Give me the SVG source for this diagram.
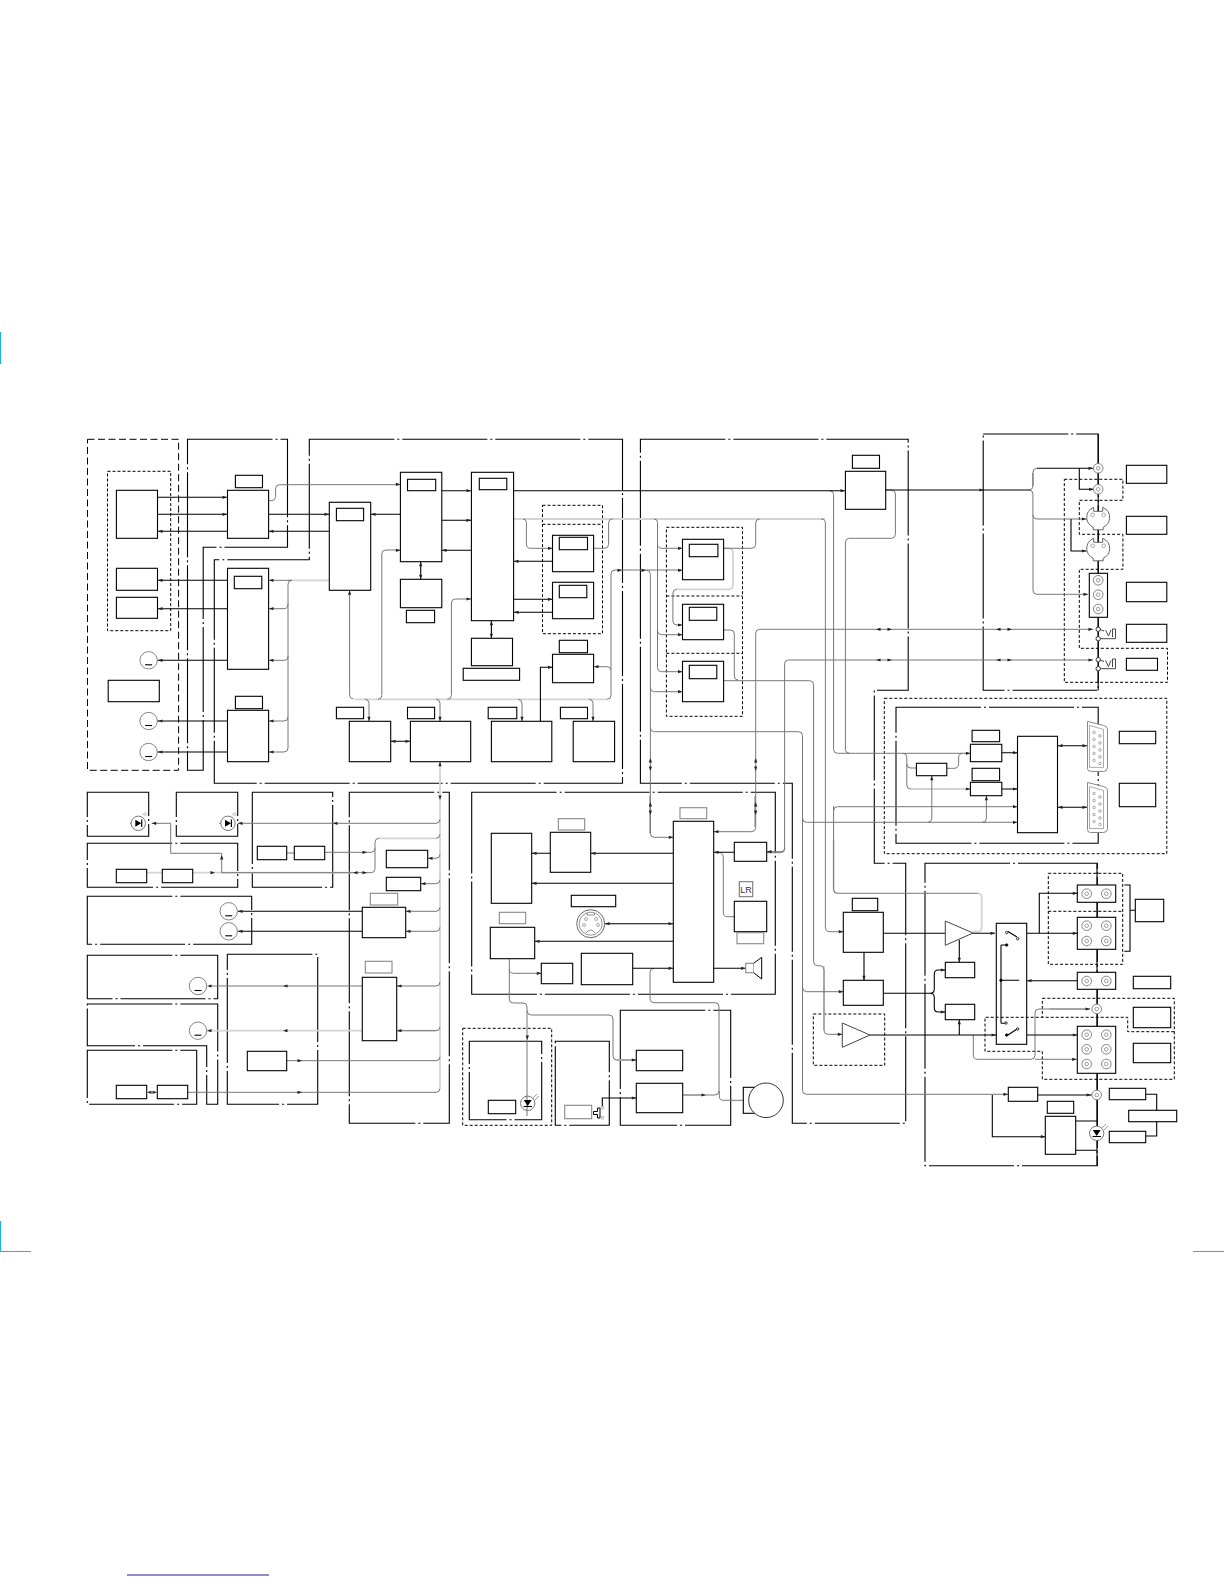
<svg xmlns="http://www.w3.org/2000/svg" width="1224" height="1584" viewBox="0 0 1224 1584">
<style>
rect{fill:#fff;stroke:#000;stroke-width:1.1}
rect.lb{stroke:#888}
.fr path,.da path,.la path,.k path,.g path,.l path{fill:none}
.fr path{stroke:#000;stroke-width:1.1;stroke-dasharray:85 3 2 3}
.da path{stroke:#000;stroke-width:1;stroke-dasharray:3 2}
.la path{stroke:#000;stroke-width:1;stroke-dasharray:7 3.5}
.k path{stroke:#000;stroke-width:1.1}
.g path{stroke:#777;stroke-width:1}
.l path{stroke:#d4d4d4;stroke-width:1.8}
.tri{fill:#fff;stroke:#444;stroke-width:1}
.hole{fill:#fff;stroke:#888;stroke-width:.7}
.blu{stroke:#2ab0d8;stroke-width:1.2}
</style>
<defs>
<path id="ar" d="M0 0L-4.5-1.6V1.6Z" fill="#222"/>
<path id="al" d="M0 0L4.5-1.6V1.6Z" fill="#222"/>
<path id="au" d="M0 0L-1.6 4.5H1.6Z" fill="#222"/>
<path id="ad" d="M0 0L-1.6-4.5H1.6Z" fill="#222"/>
<g id="rca"><circle r="4.8" fill="#fff" stroke="#777" stroke-width=".9"/><circle r="1.8" fill="#fff" stroke="#777" stroke-width=".7"/></g>
<g id="mot"><circle r="8.7" fill="#fff" stroke="#777" stroke-width=".9"/><path d="M-3.5 4.5H3.5" stroke="#000" stroke-width="1.1" fill="none"/></g>
<g id="led"><circle r="7.2" fill="#fff" stroke="#666" stroke-width=".9"/><path d="M-3-3.5L3 0L-3 3.5Z" fill="#000"/><path d="M3.4-3.8V3.8" stroke="#000" stroke-width="1.2" fill="none"/><path d="M4 -8L7-11M6-7L9-10" stroke="#777" stroke-width=".7" fill="none"/></g>
<g id="din"><path d="M-4.5-11A11.5 11.5 0 0 0-11.5 0A11.5 11.5 0 0 0-5 9V11.5H5V9A11.5 11.5 0 0 0 11.5 0A11.5 11.5 0 0 0 4.5-11V-7H-4.5Z" fill="#fff" stroke="#555" stroke-width=".9"/><circle cx="-5.5" cy="-3.5" r="1.8" class="hole"/><circle cx="5.5" cy="-3.5" r="1.8" class="hole"/></g>
<g id="dsub"><path d="M-10-25L6-21Q10-20 10-17V21Q10 25 6 25H-7Q-10 25-10 22Z" fill="#fff" stroke="#888" stroke-width="1"/><path d="M-8-21L6-17V21H-8Z" fill="#fff" stroke="#888" stroke-width=".7"/><circle cx="-3.5" cy="-14" r="1.3" class="hole"/><circle cx="-3.5" cy="-7" r="1.3" class="hole"/><circle cx="-3.5" cy="0" r="1.3" class="hole"/><circle cx="-3.5" cy="7" r="1.3" class="hole"/><circle cx="-3.5" cy="14" r="1.3" class="hole"/><circle cx="2.5" cy="-10.5" r="1.3" class="hole"/><circle cx="2.5" cy="-3.5" r="1.3" class="hole"/><circle cx="2.5" cy="3.5" r="1.3" class="hole"/><circle cx="2.5" cy="10.5" r="1.3" class="hole"/><circle cx="2.5" cy="17" r="1.3" class="hole"/></g>
</defs>

<g id="page-marks">
<path class="blu" d="M.6 332V364M.6 1221V1251.5H31M1193 1251.5H1224" fill="none"/>
<path d="M127 1575H269" stroke="#1a1a90" stroke-width="1.2" fill="none"/>
</g>

<g id="frames">
<g class="la"><path d="M87.5 439.3H178.6V770.3H87.5Z"/></g>
<g class="da">
<path d="M107.5 471.3H170.7V630.7H107.5Z"/>
<path d="M542.5 505.3H602.5V633.7H542.5ZM542.5 524.3H602.5"/>
<path d="M666.4 527.3H742.5V716.3H666.4ZM666.4 596H742.5M666.4 653.3H742.5"/>
<path d="M1064.3 479.3H1122.9V500.3H1079.3V534.3H1122.9V569.3H1079.3V648.3H1167.5V682.3H1064.3Z"/>
<path d="M884.3 698.3H1166.8V853.7H884.3Z"/>
<path d="M462.7 1028.3H551.7V1125.3H462.7Z"/>
<path d="M813.3 1014H884.7V1065.3H813.3Z"/>
<path d="M1048.3 873.3H1122.7V964.3H1048.3ZM1048.3 911.3H1122.7"/>
<path d="M1042.3 998.3H1174.3V1079.3H1042.3V1051.3H985V1017.3H1042.3ZM1174.3 1031.7H1127.7V1017.3H1042.3"/>
</g>
<g class="fr">
<path d="M187.5 439.3H287.5V547.3H203.2V770.3H187.5Z"/>
<path d="M309.3 439.3H622.5V783.3H214.3V559.7H309.3Z"/>
<path d="M640.4 439.3H908.2V690.3H874.3V863.3H905.7V1123.3H792.3V783.3H640.4Z"/>
<path d="M983.2 434H1098.2V690.3H983.2Z"/>
<path d="M896 707.3H1098.2V843.3H896Z"/>
<path d="M925 863.3H1097.3V1165.7H925Z"/>
<path d="M87.3 792.3H148.7V836.3H87.3Z"/>
<path d="M176.3 792.3H237.7V836.3H176.3Z"/>
<path d="M87.3 843.3H237.7V887.3H87.3Z"/>
<path d="M252.3 792.3H332.7V887.3H252.3Z"/>
<path d="M349.3 792.3H449.3V1123.3H349.3Z"/>
<path d="M87.3 896.3H251.7V944.3H87.3Z"/>
<path d="M87.3 955.3H217.7V998.7H87.3Z"/>
<path d="M87.3 1004H217.7V1104.3H206.7V1045.7H87.3Z"/>
<path d="M87.3 1050.3H196.7V1104.3H87.3Z"/>
<path d="M227.3 954.3H317.7V1104.3H227.3Z"/>
<path d="M471.7 792.3H775.3V994.3H471.7Z"/>
<path d="M469.3 1041.3H541.7V1119.7H469.3Z"/>
<path d="M555.3 1041.3H609.3V1125.3H555.3Z"/>
<path d="M620.3 1010.3H730.7V1125.3H620.3Z"/>
</g>
</g>

<g id="connectors">
<g class="l">
<path d="M288 580.3H329.3"/>
<path d="M513.6 519H821"/>
<path d="M654 519H825"/>
<path d="M355 699.3H607"/>
<path d="M440 761.7V1088"/>
<path d="M146.7 872.7H162.3M192.7 872.7H352M379 838.3H436"/>
<path d="M207 1030.7H362.3M396.7 1030.7H436"/>
<path d="M723.6 548.3H729q3.9 0 3.9 3.9V585.3q0 4-4 4H676.9"/>
<path d="M833.6 840V889.3q0 4 4 4"/>
<path d="M977.7 893.3q4 0 4 4V927.7q0 4-4 4H973"/>
<path d="M910.8 789H970.4"/>
<path d="M824 966V1030"/>
<path d="M682.7 1095H703"/>
<path d="M617 1060H636M1050 1009H1090"/>
</g>
<g class="g">
<path d="M268.6 500.7h3q4 0 4-4v-8q0-4 4-4H400.4"/>
<path d="M292 580.3q-4 0-4 4V748q0 4-4 4H268.6M288 604q0 4.7-4 4.7H268.6M288 656q0 4.3-4 4.3H268.6M288 717q0 4-4 4H268.6"/>
<path d="M292 580.3H268.6"/>
<path d="M349.6 590.3V695q0 4 4 4M381.8 695V554q0-4 4-4H400.4M377.8 699.3q4 0 4-4M451.4 695V603q0-4 4-4H471.4M447.4 699.3q4 0 4-4"/>
<path d="M365 699.3q4 0 4 4V721.3M436 699.3q4 0 4 4V721.3M518 699.3q4 0 4 4V721.3M589 699.3q4 0 4 4V721.3"/>
<path d="M607 699.3q4 0 4-4V574q0-4 4-4H682.5M610.7 670q0-3.3-3-3.3H593.6"/>
<path d="M821 519q4.4 0 4.4 4.4V927q0 4.7 4.7 4.7H843.3"/>
<path d="M523 519q3.4 0 3.4 3.4V544q0 4.3 4.3 4.3H552.5M593.6 548.3H604.6q4 0 4-4V523q0-4 4-4"/>
<path d="M654 519q3.5 0 3.5 3.5V667.7q0 4 4 4H682.5M657.5 544q0 4.3 4.3 4.3H682.5M657.5 630.7q0 4 4 4H682.5"/>
<path d="M723.6 548.3H751.7q4 0 4-4V523q0-4 4-4"/>
<path d="M676.9 589.3q-4 0-4 4V621q0 4 4 4H682.5"/>
<path d="M723.6 630H730.3q4 0 4 4V676q0 4 4 4"/>
<path d="M723.6 680.7H809.6q4 0 4 4V961.7q0 4 4 4H820q4 0 4 4V1030.3q0 4 4 4H842.3"/>
<path d="M646.4 570.3q4 0 4 4V833.3q0 4 4 4H673.3M650.4 687.7q0 4 4 4H682.5M650.4 727.7q0 4 4 4H798.5q4 0 4 4V1090.3q0 4 4 4H1008.3M802.7 987.7q0 4 4 4H843.3M802.5 818.3q0 4 4 4H1017.5"/>
<path d="M759.7 629.3H1093M755.7 633.3V827.7q0 4-4 4H713.7M755.7 633.3q0-4 4-4"/>
<path d="M788.6 660H1093M784.6 664V848.7q0 4-4 4H766.7M784.6 664q0-4 4-4"/>
<path d="M829.6 490.7q4 0 4 4V749.3q0 4 4 4H970.4"/>
<path d="M885.7 490H891.4q4 0 4 4V534.3q0 4-4 4H849.4q-4 0-4 4V749.3q0 4 4 4"/>
<path d="M902.8 753.3q4 0 4 4V785q0 4 4 4M906.8 764q0 4 4 4H916.4"/>
<path d="M946.8 768.3H954q4.6 0 4.6-4.6V757.9q0-4.6 4.6-4.6"/>
<path d="M833.6 806V889.3q0 4 4 4H977.7M837.6 806.7H1017.5M833.6 810.7q0-4 4-4"/>
<path d="M931.8 775.7V818.3q0 4-4 4M986.4 795.7V818.3q0 4-4 4"/>
<path d="M1033 473V486M1036.9 468.3q-4 0-4 4V486q0 4-4 4q4 0 4 4V515q0 4 4 4H1087M1033 515V590.3q0 4 4 4H1087.9"/>
<path d="M151.7 823.3H170.7V853.3H221.7V872.7"/>
<path d="M130 823.3H133M219 823.3H222"/>
<path d="M237.7 823.3H436q4 0 4-4"/>
<path d="M221.7 872.7q3 0 4 0H371q4 0 4-4V842.3q0-4 4-4M436 838.3q4 0 4-4"/>
<path d="M324.7 852.3H371q4 0 4-4M286.7 853H294.3"/>
<path d="M427.7 858.3H436q4 0 4-4M420.7 883.7H436q4 0 4-4M405.7 911.3H436q4 0 4-4M405.7 931.3H436q4 0 4-4M396.7 986H436q4 0 4-4M396.7 1030.7H436q4 0 4-4M286.7 1060.7H436q4 0 4-4M187.7 1092.3H436q4 0 4-4"/>
<path d="M209 986H362.3"/>
<path d="M650 796V833.3M755 796V827"/>
<path d="M509.3 958.7V999q0 4 4 4H523q4 0 4 4V1116M509.3 969q0 4.3 4.3 4.3H541.3M527.3 1011q0 4 4 4H609q4 0 4 4V1056q0 4 4 4H636.3"/>
<path d="M654 968.3q-4 0-4 4V998.7q0 4 4 4H715q4 0 4 4V1091q0 4-4 4H682.7M719.3 1091V1096q0 4.3 4 4.3H743.3"/>
<path d="M718 852.3q5 0 5.3 5V912q0 4.7 4 4.7H734.3"/>
<path d="M766.7 851.7H781q4 0 4-4"/>
<path d="M973.3 1035V1055q0 4.3 4 4.3H1031q4 0 4-4V1013q0-4 4-4H1090M1035 1059.3H1076.7"/>
</g>
<g class="k">
<path d="M157.5 497.3H227.5M157.5 514.3H227.5M157.5 531.3H227.5M268.6 514.3H329.3M268.6 531.3H329.3M370.7 514.3H400.4"/>
<path d="M157.5 580.3H227.5M157.5 608.7H227.5M157 660.3H227.5M157 721H227.5M157 752H227.5"/>
<path d="M441.8 490.7H471.4M441.8 520.3H471.4M441.8 550.3H471.4M420.7 561.7V579.3M491.4 620.7V638.3"/>
<path d="M513.6 490.7H845.4M513.6 561.3H552.5M513.6 599.3H552.5M513.6 612.3H552.5M390.7 741.3H410.4M540.4 721.3V667.3H552.5"/>
<path d="M885.7 490H1029.3"/>
<path d="M1079.3 468.3V489.3H1093.6M1037 468.3H1093M1071 519V551H1086.4"/>
<path d="M1098.2 434V690.3"/>
<path d="M1001.8 752.7H1017.5M1001.8 789H1017.5M1057.5 745.7H1087.5M1057.5 807.3H1087.5"/>
<path d="M237.7 911.3H362.3M237.7 931.3H362.3"/>
<path d="M673.3 853.3H590.7M550.3 853.3H531.7M673.3 883.3H531.7M605 923.7H673.3M673.3 941.3H534.7M632.7 968.3H673.3M713.7 968.3H745.7M713.7 852.3H734.3"/>
<path d="M602.3 1107.7V1098H636.3"/>
<path d="M883.3 933.3H945.3M973 933.3H995M959.3 940V962.3M864 952.3V980.3"/>
<path d="M883.3 993.3H930q4.3 0 4.3-4.3V974q0-4 4-4H945.3M930 993.3q4.3 0 4.3 4.3V1008q0 4 4 4H945.3"/>
<path d="M870 1035H996.3M959.3 1035V1019.7"/>
<path d="M1026.7 933.3H1077.3M1039.3 933.3V893.3H1077.3M1026.7 1035H1077.3M1077.3 980.7H1027"/>
<path d="M1001 945V1023.3M1001 945H1006.7M1001 980.3H1019.3M1001 1023.3H1006"/>
<path d="M1008 931.5L1017 937M1008 1035L1017 1029"/>
<path d="M1097 863.3V1165.7M1075.7 1121H1097M1075.7 1150.3H1097"/>
<path d="M992.3 1095V1136.7H1045.3"/>
<path d="M1037.7 1095H1091.7"/>
<path d="M1145.7 1094.3H1156.7V1110.3M1145.7 1136H1156.7V1121.7M1124.3 885H1130V951.3H1124.3M1130 910.3H1135.3"/>
</g>
</g>

<g id="arrows">
<use href="#ar" x="227" y="497.3"/><use href="#ar" x="227" y="514.3"/><use href="#al" x="158" y="531.3"/>
<use href="#ar" x="400.4" y="484.3"/><use href="#ar" x="329" y="514.3"/><use href="#al" x="269" y="531.3"/><use href="#al" x="371" y="514.3"/>
<use href="#al" x="158" y="580.3"/><use href="#al" x="158" y="608.7"/><use href="#al" x="158" y="660.3"/><use href="#al" x="158" y="721"/><use href="#al" x="158" y="752"/>
<use href="#al" x="269" y="580.3"/><use href="#al" x="269" y="608.7"/><use href="#al" x="269" y="660.3"/><use href="#al" x="269" y="721"/><use href="#al" x="269" y="752"/>
<use href="#ar" x="471" y="490.7"/><use href="#ar" x="471" y="520.3"/><use href="#al" x="442" y="550.3"/><use href="#ar" x="400.4" y="550.3"/><use href="#ar" x="471" y="599"/>
<use href="#au" x="420.7" y="561.7"/><use href="#ad" x="420.7" y="579.3"/><use href="#au" x="491.4" y="620.7"/><use href="#ad" x="491.4" y="638.3"/>
<use href="#au" x="349.6" y="590.3"/><use href="#al" x="391" y="741.3"/><use href="#ar" x="410" y="741.3"/>
<use href="#ad" x="369" y="721.3"/><use href="#ad" x="440" y="721.3"/><use href="#ad" x="522" y="721.3"/><use href="#ad" x="593" y="721.3"/><use href="#au" x="440" y="761.7"/><use href="#ad" x="440" y="800"/>
<use href="#ar" x="552.5" y="548.3"/><use href="#al" x="514" y="561.3"/><use href="#ar" x="552.5" y="599.3"/><use href="#al" x="514" y="612.3"/><use href="#ar" x="552.5" y="667.3"/><use href="#al" x="594" y="666.7"/><use href="#ar" x="622" y="570.3"/><use href="#ar" x="646" y="570.3"/>
<use href="#ar" x="682.5" y="548.3"/><use href="#ar" x="682.5" y="570.3"/><use href="#ar" x="682.5" y="625"/><use href="#ar" x="682.5" y="634.7"/><use href="#ar" x="682.5" y="671.7"/><use href="#ar" x="682.5" y="691.7"/>
<use href="#ar" x="845" y="490.7"/><use href="#ar" x="984" y="490"/><use href="#ar" x="1093" y="468.3"/><use href="#ar" x="1093.6" y="489.3"/><use href="#ar" x="1086.4" y="519"/><use href="#ar" x="1086.4" y="551"/><use href="#ar" x="1088" y="594.3"/>
<use href="#al" x="876" y="629.3"/><use href="#ar" x="892" y="629.3"/><use href="#al" x="996" y="629.3"/><use href="#ar" x="1012" y="629.3"/><use href="#ar" x="1093" y="629.3"/>
<use href="#al" x="876" y="660"/><use href="#ar" x="892" y="660"/><use href="#al" x="996" y="660"/><use href="#ar" x="1012" y="660"/><use href="#ar" x="1093" y="660"/>
<use href="#au" x="650.4" y="758"/><use href="#ad" x="650.4" y="771"/><use href="#ad" x="650.4" y="815"/><use href="#au" x="650.4" y="802"/>
<use href="#au" x="755.7" y="758"/><use href="#ad" x="755.7" y="771"/><use href="#ad" x="755.7" y="815"/><use href="#au" x="755.7" y="802"/>
<use href="#ar" x="970.4" y="753.3"/><use href="#ar" x="1017.5" y="752.7"/><use href="#ar" x="970.4" y="789"/><use href="#ar" x="1017.5" y="789"/><use href="#ar" x="1017.5" y="806.7"/><use href="#ar" x="1017.5" y="822.3"/><use href="#au" x="931.8" y="775.7"/><use href="#au" x="986.4" y="795.7"/>
<use href="#al" x="1058" y="745.7"/><use href="#ar" x="1087" y="745.7"/><use href="#al" x="1058" y="807.3"/><use href="#ar" x="1087" y="807.3"/>
<use href="#ar" x="673.3" y="837.3"/><use href="#al" x="714" y="831.7"/><use href="#al" x="767" y="851.7"/><use href="#al" x="714" y="852.3"/>
<use href="#al" x="591" y="853.3"/><use href="#al" x="532" y="853.3"/><use href="#al" x="532" y="883.3"/><use href="#al" x="605" y="923.7"/><use href="#ar" x="673" y="923.7"/><use href="#al" x="535" y="941.3"/><use href="#ar" x="673" y="968.3"/><use href="#ar" x="745.7" y="968.3"/><use href="#ar" x="541.3" y="973.3"/>
<use href="#ad" x="527.3" y="1040"/><use href="#ar" x="636.3" y="1060"/><use href="#ar" x="636.3" y="1098"/><use href="#ar" x="706" y="1095"/>
<use href="#al" x="151.7" y="823.3"/><use href="#al" x="238" y="823.3"/><use href="#al" x="333" y="823.3"/>
<use href="#au" x="221.7" y="855"/><use href="#ar" x="215" y="872.7"/><use href="#al" x="353" y="872.7"/><use href="#ar" x="367" y="872.7"/><use href="#ar" x="367" y="852.3"/>
<use href="#al" x="428" y="858.3"/><use href="#al" x="421" y="883.7"/><use href="#al" x="406" y="911.3"/><use href="#al" x="406" y="931.3"/><use href="#al" x="238" y="911.3"/><use href="#al" x="238" y="931.3"/>
<use href="#al" x="397" y="986"/><use href="#al" x="397" y="1030.7"/><use href="#al" x="283" y="986"/><use href="#al" x="283" y="1030.7"/><use href="#al" x="207" y="986"/><use href="#al" x="207" y="1030.7"/>
<use href="#ar" x="302" y="1060.7"/><use href="#ar" x="302" y="1092.3"/><use href="#al" x="147" y="1092.3"/><use href="#ar" x="157" y="1092.3"/>
<use href="#ar" x="843.3" y="931.7"/><use href="#ar" x="843.3" y="991.7"/><use href="#ar" x="842.3" y="1034.3"/>
<use href="#ar" x="995" y="933.3"/><use href="#ad" x="959.3" y="962.3"/><use href="#ad" x="864" y="980.3"/><use href="#ar" x="945.3" y="970"/><use href="#ar" x="945.3" y="1012"/><use href="#au" x="959.3" y="1019.7"/><use href="#ar" x="996" y="1035"/>
<use href="#ar" x="1077.3" y="893.3"/><use href="#ar" x="1077.3" y="933.3"/><use href="#al" x="1027" y="980.7"/><use href="#ar" x="1090" y="1009"/><use href="#ar" x="1077.3" y="1035"/><use href="#ar" x="1076.7" y="1059.3"/>
<use href="#ar" x="1008" y="1094.3"/><use href="#ar" x="1091" y="1095"/><use href="#ar" x="1045.3" y="1136.7"/>
</g>

<g id="nodes">
<g id="n1"><rect x="116.4" y="490.3" width="41.1" height="48"/></g>
<g id="n2"><rect x="116.4" y="568.3" width="41.1" height="22"/></g>
<g id="n3"><rect x="116.4" y="597.3" width="41.1" height="21"/></g>
<g id="n4"><use href="#mot" x="148.6" y="660.3"/></g>
<g id="n5"><use href="#mot" x="148.6" y="721"/></g>
<g id="n6"><use href="#mot" x="148.6" y="752"/></g>
<g id="n7"><rect x="108.2" y="680.3" width="51.1" height="21.4"/></g>
<g id="n8"><rect x="235.4" y="475.3" width="27.1" height="12.4"/><rect x="227.5" y="490.3" width="41.1" height="48"/></g>
<g id="n9"><rect x="227.5" y="568.3" width="41.1" height="101"/><rect x="234.3" y="576.3" width="27.5" height="12.4"/></g>
<g id="n10"><rect x="235.4" y="696.3" width="27.1" height="12.4"/><rect x="227.5" y="710.3" width="41.1" height="51.4"/></g>
<g id="n11"><rect x="329.3" y="502.3" width="41.4" height="88"/><rect x="336.4" y="508.3" width="27.2" height="12.4"/></g>
<g id="n12"><rect x="400.4" y="472.3" width="41.4" height="89.4"/><rect x="407.5" y="479.3" width="28.2" height="11.4"/></g>
<g id="n13"><rect x="400.4" y="579.3" width="41.4" height="28.4"/><rect x="406.4" y="610.3" width="28.2" height="12.4"/></g>
<g id="n14"><rect x="471.4" y="472.3" width="42.2" height="148.4"/><rect x="479.3" y="478.3" width="27.5" height="11.4"/></g>
<g id="n15"><rect x="552.5" y="535.3" width="41.1" height="36.4"/><rect x="559.3" y="537.3" width="28.2" height="12.4"/></g>
<g id="n16"><rect x="552.5" y="582.3" width="41.1" height="36.4"/><rect x="559.3" y="585.3" width="27.5" height="12.4"/></g>
<g id="n17"><rect x="471.4" y="638.3" width="41.1" height="27.4"/><rect x="463.2" y="668.3" width="56.4" height="12"/></g>
<g id="n18"><rect x="559.3" y="640.3" width="28.2" height="12.4"/><rect x="552.5" y="654.3" width="41.1" height="28.4"/></g>
<g id="n19"><rect x="336.4" y="707.3" width="27.2" height="11.4"/><rect x="349.3" y="721.3" width="41.4" height="40.4"/></g>
<g id="n20"><rect x="407.5" y="707.3" width="27.1" height="11.4"/><rect x="410.4" y="721.3" width="60.3" height="40.4"/></g>
<g id="n21"><rect x="488.2" y="707.3" width="28.6" height="11.4"/><rect x="491.4" y="721.3" width="60.4" height="40.4"/></g>
<g id="n22"><rect x="560.4" y="707.3" width="27.1" height="11.4"/><rect x="573.2" y="721.3" width="41.4" height="40.4"/></g>
<g id="n23"><rect x="682.5" y="539.3" width="41.1" height="40.4"/><rect x="689.3" y="544.3" width="28.6" height="12.4"/></g>
<g id="n24"><rect x="682.5" y="604.3" width="41.1" height="35.4"/><rect x="689.3" y="607.3" width="27.5" height="13"/></g>
<g id="n25"><rect x="682.5" y="661.3" width="41.1" height="40.4"/><rect x="689.3" y="665.3" width="27.5" height="13.4"/></g>
<g id="n26"><rect x="852.4" y="455.3" width="27.1" height="13"/><rect x="845.4" y="471.3" width="40.3" height="38"/></g>
<g id="n27"><rect x="1126.4" y="465.3" width="40.4" height="18"/></g>
<g id="n28"><rect x="1126.4" y="516.3" width="40.4" height="18"/></g>
<g id="n29"><rect x="1126.4" y="582.3" width="40.4" height="19.4"/></g>
<g id="n30"><rect x="1126.4" y="624.3" width="40.4" height="18"/></g>
<g id="n31"><rect x="1126.4" y="658.3" width="31.1" height="12"/></g>
<g id="n32"><use href="#rca" x="1098.2" y="468.3"/><use href="#rca" x="1098.2" y="489.3"/></g>
<g id="n33"><use href="#din" x="1098.2" y="518.3"/><use href="#din" x="1098.2" y="549.3"/></g>
<g id="n34"><rect x="1089.3" y="573.3" width="18.2" height="44"/><use href="#rca" x="1098.2" y="580.3"/><use href="#rca" x="1098.2" y="594.7"/><use href="#rca" x="1098.2" y="609"/></g>
<g id="n35"><circle cx="1098.2" cy="629.3" r="2.2" fill="#fff" stroke="#333"/><circle cx="1098.2" cy="638.7" r="2.2" fill="#fff" stroke="#333"/><circle cx="1098.2" cy="659.7" r="2.2" fill="#fff" stroke="#333"/><circle cx="1098.2" cy="668.7" r="2.2" fill="#fff" stroke="#333"/><path d="M1100 629.5L1104 631M1100.5 638.7H1115.5V629H1112.5V637M1105.5 630L1108.5 636L1111 630M1100 660L1104 661.5M1100.5 668.7H1115.5V659H1112.5V667M1105.5 660.5L1108.5 666.5L1111 660.5" stroke="#333" stroke-width=".9" fill="none"/></g>
<g id="n36"><rect x="916.4" y="763.3" width="30.4" height="12.4"/></g>
<g id="n37"><rect x="972.1" y="730.3" width="27.5" height="11.4"/><rect x="970.4" y="744.3" width="31.4" height="17.4"/></g>
<g id="n38"><rect x="972.1" y="768.3" width="27.5" height="12.4"/><rect x="970.4" y="782.3" width="31.4" height="13.4"/></g>
<g id="n39"><rect x="1017.5" y="736.3" width="40" height="96.4"/></g>
<g id="n40"><use href="#dsub" x="1097.5" y="746.4"/><use href="#dsub" x="1097.5" y="807.5"/></g>
<g id="n41"><rect x="1119.3" y="731.3" width="36.4" height="12.4"/></g>
<g id="n42"><rect x="1119.3" y="783.3" width="36.4" height="23.4"/></g>
<g id="n43"><rect x="257.3" y="846.3" width="29.4" height="13.4"/><rect x="294.3" y="846.3" width="30.4" height="13.4"/></g>
<g id="n44"><rect x="116.3" y="869.3" width="30.4" height="13.4"/><rect x="162.3" y="869.3" width="30.4" height="13.4"/></g>
<g id="n45"><use href="#led" x="138.3" y="823.3"/></g>
<g id="n46"><use href="#led" x="228" y="823.3"/></g>
<g id="n47"><rect x="386.3" y="850.3" width="41.4" height="17.4"/></g>
<g id="n48"><rect x="386.3" y="877.3" width="34.4" height="13.4"/></g>
<g id="n49"><rect class="lb" x="370.3" y="893.3" width="27.4" height="11.7"/><rect x="362.3" y="907.3" width="43.4" height="30.4"/></g>
<g id="n50"><rect class="lb" x="365.3" y="961.3" width="26.7" height="11.7"/><rect x="362.3" y="977.3" width="34.4" height="63.4"/></g>
<g id="n51"><rect x="247.3" y="1051.3" width="39.4" height="19.4"/></g>
<g id="n52"><rect x="116.3" y="1085.3" width="30.4" height="13.4"/><rect x="157.3" y="1085.3" width="30.4" height="13.4"/></g>
<g id="n53"><use href="#mot" x="228.7" y="911.3"/><use href="#mot" x="228.7" y="931.3"/></g>
<g id="n54"><use href="#mot" x="198" y="986"/><use href="#mot" x="198" y="1030.7"/></g>
<g id="n55"><rect x="491.3" y="833.3" width="40.4" height="70"/></g>
<g id="n56"><rect class="lb" x="558.3" y="818.7" width="26.4" height="11.3"/><rect x="550.3" y="832.3" width="40.4" height="40"/></g>
<g id="n57"><rect class="lb" x="680" y="807.7" width="26.7" height="11"/><rect x="673.3" y="821.3" width="40.4" height="161"/></g>
<g id="n58"><rect x="734.3" y="842.3" width="32.4" height="19"/></g>
<g id="n59"><rect x="739.3" y="881.7" width="13.4" height="15" style="stroke:#777"/><text x="746" y="893" font-family="Liberation Sans,sans-serif" font-size="9" text-anchor="middle" fill="#333">LR</text><rect x="734.3" y="901.3" width="32.4" height="30.4"/><rect class="lb" x="737" y="932.7" width="26.7" height="11"/></g>
<g id="n60"><rect x="571.3" y="895.3" width="44.4" height="11.4"/><circle cx="590.7" cy="923.7" r="14" fill="#fff" stroke="#666"/><circle cx="590.7" cy="923.7" r="11.5" fill="#fff" stroke="#666" stroke-width=".7"/><path d="M587 913V915H594.5V913M586 933Q590.7 927 595 933" fill="none" stroke="#777" stroke-width=".8"/><circle cx="584" cy="925" r="1.5" class="hole"/><circle cx="598" cy="925" r="1.5" class="hole"/><circle cx="586" cy="919" r="1.5" class="hole"/><circle cx="596" cy="919" r="1.5" class="hole"/></g>
<g id="n61"><rect class="lb" x="499.3" y="912.3" width="26.4" height="11.4"/><rect x="490.3" y="927.3" width="44.4" height="31.4"/></g>
<g id="n62"><rect x="541.3" y="963.3" width="31.4" height="20.4"/></g>
<g id="n63"><rect x="581.3" y="953.3" width="51.4" height="31.4"/></g>
<g id="n64"><rect x="745.7" y="963.3" width="8" height="9.4" style="stroke:#888"/><path d="M753.7 963.3L761.7 957.3V979L753.7 972.7" stroke="#000" stroke-width="1" fill="#fff"/></g>
<g id="n65"><rect x="488.3" y="1100.3" width="27.4" height="13.4"/><circle cx="527.7" cy="1103.3" r="7.2" fill="none" stroke="#666" stroke-width=".9"/><path d="M523.7 1100H531.7L527.7 1106Z" fill="#000"/><path d="M523.5 1106.5H532" stroke="#000" stroke-width="1.1" fill="none"/><path d="M533 1098L537 1094M535 1100L539 1096" stroke="#777" stroke-width=".7" fill="none"/></g>
<g id="n66"><rect class="lb" x="564.7" y="1105.3" width="27" height="13.4"/><path d="M593.5 1111.5H597.5V1108H600V1118H597.5V1114.5H593.5Z" fill="#fff" stroke="#000"/><circle cx="602.3" cy="1107.7" r="1.4" class="hole"/><circle cx="602.3" cy="1117.7" r="1.4" class="hole"/></g>
<g id="n67"><rect x="636.3" y="1050.3" width="46.4" height="20.4"/></g>
<g id="n68"><rect x="636.3" y="1083.3" width="46.4" height="29.4"/></g>
<g id="n69"><rect x="743.3" y="1087.3" width="12.7" height="26"/><circle cx="766" cy="1100.3" r="17.3" fill="#fff" stroke="#333"/></g>
<g id="n70"><rect x="852.3" y="898.3" width="25.4" height="12.4"/><rect x="843.3" y="912.3" width="40" height="40"/></g>
<g id="n71"><rect x="843.3" y="980.3" width="40" height="25"/></g>
<g id="n72"><path class="tri" d="M842.3 1023V1047.3L870 1035Z"/></g>
<g id="n73"><path class="tri" d="M945.3 921V945.3L973 933Z"/></g>
<g id="n74"><rect x="945.3" y="962.3" width="29.4" height="15.4"/></g>
<g id="n75"><rect x="945.3" y="1004.3" width="29.4" height="15.4"/></g>
<g id="n76"><rect x="996.3" y="923.3" width="30.4" height="121" style="fill:none"/><g fill="#fff" stroke="#000" stroke-width=".8"><circle cx="1006.7" cy="932.5" r="1.2"/><circle cx="1017.7" cy="938.7" r="1.2"/><circle cx="1006.7" cy="945" r="1.2" fill="#000"/><circle cx="1006" cy="1023" r="1.2"/><circle cx="1006.7" cy="1035" r="1.2" fill="#000"/><circle cx="1017.7" cy="1029" r="1.2"/><circle cx="1001" cy="980.3" r="1.2" fill="#000"/></g></g>
<g id="n77"><rect x="1077.3" y="885" width="38.4" height="17.3"/><use href="#rca" x="1086.7" y="893.7"/><use href="#rca" x="1106.3" y="893.7"/></g>
<g id="n78"><rect x="1077.3" y="917.3" width="38.4" height="32"/><use href="#rca" x="1086.7" y="925.7"/><use href="#rca" x="1106.3" y="925.7"/><use href="#rca" x="1086.7" y="941"/><use href="#rca" x="1106.3" y="941"/></g>
<g id="n79"><rect x="1077.3" y="972.3" width="38.4" height="17"/><use href="#rca" x="1086.7" y="981"/><use href="#rca" x="1106.3" y="981"/></g>
<g id="n80"><use href="#rca" x="1096.7" y="1009"/><use href="#rca" x="1096.7" y="1095"/></g>
<g id="n81"><rect x="1077.3" y="1026.3" width="38.4" height="47"/><use href="#rca" x="1086.7" y="1034.7"/><use href="#rca" x="1106.3" y="1034.7"/><use href="#rca" x="1086.7" y="1049.3"/><use href="#rca" x="1106.3" y="1049.3"/><use href="#rca" x="1086.7" y="1064"/><use href="#rca" x="1106.3" y="1064"/></g>
<g id="n82"><rect x="1135.3" y="899.3" width="28.4" height="22.4"/></g>
<g id="n83"><rect x="1133.3" y="976.3" width="37.4" height="12.4"/></g>
<g id="n84"><rect x="1133.3" y="1007.3" width="37.4" height="20.4"/></g>
<g id="n85"><rect x="1133.3" y="1043.3" width="37.4" height="19.4"/></g>
<g id="n86"><rect x="1008.3" y="1087.3" width="29.4" height="14"/></g>
<g id="n87"><rect x="1047.3" y="1101.3" width="26.4" height="12"/><rect x="1045.3" y="1116.3" width="30.4" height="38"/></g>
<g id="n88"><circle cx="1096.7" cy="1133.3" r="7.2" fill="#fff" stroke="#666" stroke-width=".9"/><path d="M1092.7 1130H1100.7L1096.7 1136Z" fill="#000"/><path d="M1092.5 1136.5H1101" stroke="#000" stroke-width="1.1" fill="none"/><path d="M1102 1128L1106 1124M1104 1130L1108 1126" stroke="#777" stroke-width=".7" fill="none"/></g>
<g id="n89"><rect x="1109.3" y="1088.3" width="36.4" height="11.4"/></g>
<g id="n90"><rect x="1109.3" y="1131.3" width="36.4" height="11.4"/></g>
<g id="n91"><rect x="1128.7" y="1110.3" width="48" height="11.4"/></g>
</g>
</svg>
